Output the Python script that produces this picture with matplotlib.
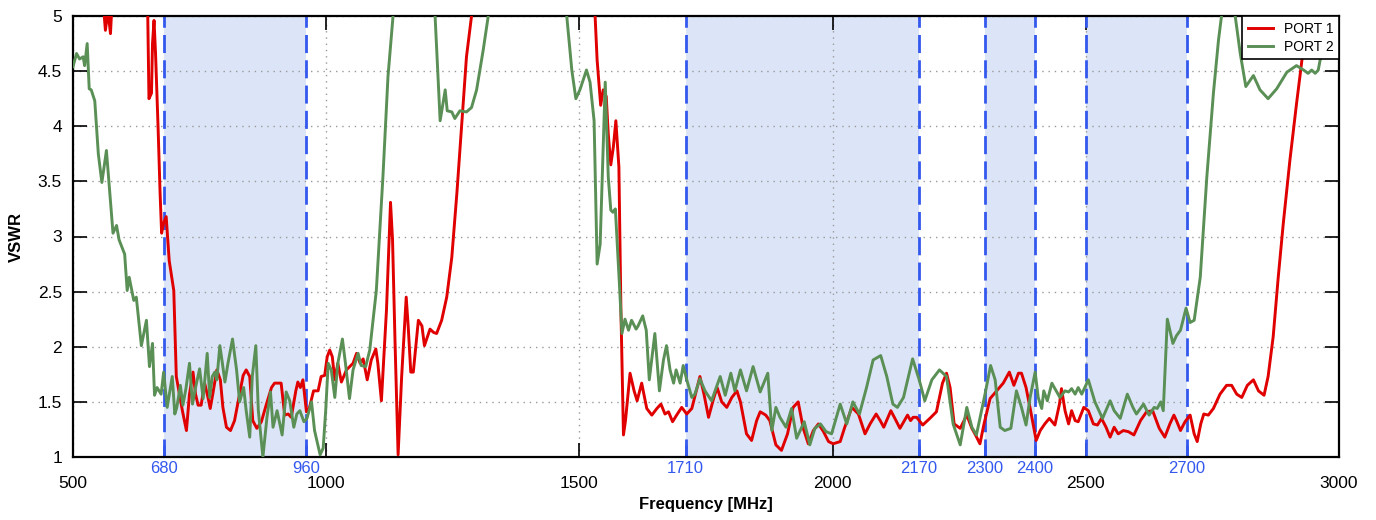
import numpy as np
import matplotlib
matplotlib.use('Agg')
import matplotlib.pyplot as plt
from matplotlib import rc

rc('font', family=['Liberation Sans', 'DejaVu Sans'])

# VSWR sweep, PORT 1 (values above 5 run off the top of the plot)
port1_freq = [500, 552, 560, 564, 569, 574, 578, 590, 640, 647, 650, 655, 657, 660, 663, 668, 672, 675, 679, 684,
              690, 699, 704, 709, 716, 724, 730, 737, 742, 747, 753, 760, 767, 771, 776, 784, 791, 796, 803, 811,
              819, 829, 836, 842, 849, 855, 863, 872, 882, 892, 898, 911, 918, 925, 931, 940, 944, 949, 954, 961,
              967, 975, 984, 990, 997, 1002, 1007, 1012, 1017, 1023, 1030, 1040, 1053, 1060, 1067, 1073, 1081, 1089, 1098, 1102,
              1109, 1119, 1127, 1131, 1136, 1142, 1149, 1158, 1162, 1167, 1172, 1182, 1189, 1194, 1205, 1212, 1218, 1228, 1238, 1248,
              1258, 1268, 1277, 1287, 1300, 1515, 1531, 1535, 1542, 1547, 1553, 1557, 1562, 1567, 1572, 1578, 1582, 1587, 1591, 1600,
              1608, 1614, 1623, 1633, 1643, 1653, 1661, 1669, 1676, 1684, 1692, 1702, 1712, 1722, 1738, 1746, 1755, 1765, 1772, 1781,
              1791, 1801, 1811, 1818, 1830, 1840, 1850, 1857, 1868, 1876, 1888, 1899, 1911, 1922, 1932, 1942, 1952, 1962, 1972, 1982,
              1992, 2001, 2015, 2024, 2038, 2051, 2064, 2074, 2086, 2094, 2101, 2115, 2123, 2133, 2148, 2154, 2159, 2166, 2178, 2192,
              2205, 2217, 2225, 2232, 2240, 2252, 2265, 2275, 2281, 2291, 2299, 2311, 2324, 2337, 2349, 2358, 2367, 2373, 2382, 2391,
              2402, 2410, 2419, 2428, 2439, 2448, 2452, 2459, 2466, 2472, 2479, 2485, 2496, 2505, 2515, 2523, 2531, 2540, 2548, 2556,
              2564, 2574, 2584, 2595, 2608, 2620, 2632, 2645, 2656, 2666, 2674, 2679, 2687, 2696, 2706, 2714, 2720, 2727, 2733, 2742,
              2752, 2765, 2778, 2788, 2798, 2808, 2819, 2831, 2841, 2852, 2860, 2870, 2880, 2890, 2903, 2916, 2926, 2933, 2938, 2960,
              3000]
port1_vswr = [6.5, 6.0, 5.1, 4.87, 5.05, 4.84, 5.2, 6.5, 6.5, 5.2, 4.25, 4.30, 4.75, 4.96, 4.66, 3.99, 3.39, 3.03, 3.12, 3.18,
              2.78, 2.51, 1.73, 1.60, 1.42, 1.24, 1.57, 1.77, 1.57, 1.47, 1.47, 1.67, 1.53, 1.44, 1.57, 1.79, 1.70, 1.45, 1.27, 1.24,
              1.33, 1.57, 1.74, 1.79, 1.73, 1.33, 1.26, 1.32, 1.48, 1.63, 1.67, 1.67, 1.38, 1.39, 1.36, 1.60, 1.68, 1.63, 1.70, 1.41,
              1.45, 1.60, 1.60, 1.73, 1.74, 1.91, 1.97, 1.91, 1.70, 1.85, 1.68, 1.79, 1.85, 1.94, 1.85, 1.89, 1.70, 1.88, 1.98, 1.85,
              1.51, 2.33, 3.31, 2.97, 2.03, 1.02, 1.73, 2.45, 2.18, 1.77, 1.77, 2.24, 2.19, 2.01, 2.16, 2.13, 2.12, 2.24, 2.45, 2.81,
              3.39, 4.05, 4.63, 5.0, 6.5, 6.5, 5.0, 4.60, 4.19, 4.33, 4.27, 3.93, 3.65, 3.81, 4.05, 3.63, 2.33, 1.20, 1.33, 1.76,
              1.60, 1.51, 1.67, 1.44, 1.38, 1.44, 1.48, 1.39, 1.41, 1.32, 1.38, 1.45, 1.39, 1.44, 1.73, 1.57, 1.36, 1.53, 1.63, 1.50,
              1.45, 1.54, 1.60, 1.50, 1.21, 1.15, 1.33, 1.41, 1.38, 1.33, 1.11, 1.06, 1.21, 1.45, 1.50, 1.26, 1.12, 1.24, 1.30, 1.23,
              1.14, 1.12, 1.14, 1.27, 1.45, 1.39, 1.21, 1.30, 1.39, 1.33, 1.27, 1.42, 1.35, 1.26, 1.38, 1.33, 1.36, 1.36, 1.29, 1.35,
              1.41, 1.67, 1.76, 1.63, 1.30, 1.26, 1.38, 1.26, 1.21, 1.12, 1.30, 1.53, 1.60, 1.67, 1.77, 1.65, 1.76, 1.76, 1.63, 1.42,
              1.15, 1.24, 1.30, 1.35, 1.29, 1.48, 1.62, 1.42, 1.30, 1.42, 1.33, 1.32, 1.45, 1.42, 1.30, 1.29, 1.35, 1.27, 1.18, 1.27,
              1.21, 1.24, 1.23, 1.20, 1.33, 1.41, 1.42, 1.26, 1.18, 1.30, 1.38, 1.33, 1.24, 1.32, 1.38, 1.21, 1.14, 1.30, 1.39, 1.38,
              1.44, 1.57, 1.65, 1.65, 1.57, 1.54, 1.65, 1.70, 1.60, 1.56, 1.73, 2.09, 2.63, 3.12, 3.69, 4.20, 4.57, 4.87, 5.0, 6.0,
              7.0]

# VSWR sweep, PORT 2
port2_freq = [500, 507, 513, 520, 523, 528, 532, 536, 543, 550, 557, 566, 579, 586, 591, 602, 607, 611, 620, 625,
              635, 645, 651, 657, 661, 666, 674, 679, 686, 696, 701, 705, 712, 717, 723, 730, 736, 742, 750, 757,
              765, 770, 775, 780, 784, 790, 795, 800, 806, 815, 823, 829, 837, 842, 849, 854, 861, 866, 875, 883,
              890, 895, 903, 913, 921, 928, 936, 942, 948, 956, 962, 971, 977, 988, 994, 999, 1004, 1010, 1017, 1023,
              1032, 1038, 1046, 1053, 1063, 1069, 1078, 1086, 1099, 1112, 1122, 1132, 1145, 1205, 1215, 1225, 1235, 1239, 1248, 1254,
              1264, 1277, 1287, 1297, 1310, 1320, 1335, 1460, 1475, 1485, 1493, 1501, 1514, 1521, 1529, 1535, 1541, 1551, 1557, 1562,
              1566, 1571, 1579, 1584, 1590, 1597, 1603, 1612, 1616, 1625, 1632, 1638, 1649, 1658, 1666, 1672, 1679, 1686, 1691, 1699,
              1705, 1712, 1722, 1728, 1738, 1748, 1761, 1768, 1778, 1788, 1799, 1807, 1818, 1830, 1843, 1857, 1872, 1880, 1888, 1896,
              1908, 1919, 1929, 1944, 1955, 1965, 1976, 1987, 1998, 2015, 2028, 2040, 2053, 2067, 2080, 2095, 2107, 2119, 2128, 2140,
              2158, 2171, 2182, 2196, 2211, 2225, 2238, 2252, 2265, 2275, 2284, 2301, 2312, 2321, 2331, 2340, 2352, 2363, 2373, 2382,
              2390, 2400, 2406, 2413, 2417, 2424, 2433, 2439, 2449, 2459, 2466, 2472, 2479, 2485, 2492, 2505, 2518, 2533, 2548, 2556,
              2568, 2582, 2593, 2600, 2614, 2625, 2635, 2641, 2648, 2653, 2661, 2672, 2679, 2687, 2698, 2706, 2714, 2726, 2739, 2752,
              2762, 2768, 2778, 2786, 2795, 2805, 2816, 2831, 2844, 2860, 2877, 2897, 2916, 2930, 2939, 2946, 2953, 2959, 2964, 2968,
              3000]
port2_vswr = [4.54, 4.66, 4.61, 4.63, 4.55, 4.75, 4.34, 4.33, 4.23, 3.75, 3.49, 3.78, 3.03, 3.10, 2.97, 2.84, 2.51, 2.63, 2.42, 2.45,
              2.01, 2.24, 1.82, 2.03, 1.56, 1.63, 1.57, 1.77, 1.45, 1.73, 1.39, 1.45, 1.65, 1.47, 1.62, 1.85, 1.48, 1.63, 1.80, 1.53,
              1.94, 1.54, 1.73, 1.77, 1.70, 2.01, 1.85, 1.68, 1.85, 2.07, 1.79, 1.50, 1.63, 1.42, 1.18, 1.73, 2.01, 1.42, 1.00, 1.36,
              1.59, 1.27, 1.42, 1.20, 1.59, 1.51, 1.27, 1.39, 1.42, 1.32, 1.35, 1.50, 1.24, 1.02, 1.08, 1.42, 1.85, 1.79, 1.54, 1.85,
              2.07, 1.85, 1.53, 1.79, 1.94, 1.83, 1.82, 1.97, 2.51, 3.54, 4.45, 5.0, 6.0, 6.0, 5.0, 4.05, 4.33, 4.14, 4.13, 4.07,
              4.14, 4.13, 4.17, 4.33, 4.69, 5.0, 6.0, 6.0, 5.0, 4.51, 4.25, 4.33, 4.51, 4.40, 4.05, 2.75, 2.93, 4.40, 3.54, 3.24,
              3.22, 3.25, 2.57, 2.12, 2.25, 2.15, 2.24, 2.16, 2.19, 2.28, 2.15, 1.70, 2.12, 1.60, 1.88, 2.01, 1.79, 1.67, 1.79, 1.67,
              1.83, 1.70, 1.54, 1.57, 1.71, 1.60, 1.51, 1.60, 1.73, 1.56, 1.76, 1.60, 1.79, 1.60, 1.82, 1.59, 1.76, 1.24, 1.45, 1.36,
              1.27, 1.44, 1.17, 1.32, 1.11, 1.26, 1.30, 1.23, 1.21, 1.48, 1.30, 1.50, 1.39, 1.63, 1.88, 1.92, 1.73, 1.48, 1.45, 1.54,
              1.89, 1.70, 1.51, 1.70, 1.79, 1.73, 1.30, 1.11, 1.45, 1.27, 1.20, 1.57, 1.83, 1.70, 1.27, 1.24, 1.26, 1.60, 1.45, 1.29,
              1.54, 1.77, 1.54, 1.44, 1.60, 1.51, 1.67, 1.62, 1.54, 1.60, 1.59, 1.62, 1.57, 1.63, 1.57, 1.70, 1.50, 1.35, 1.51, 1.42,
              1.35, 1.57, 1.45, 1.39, 1.48, 1.38, 1.45, 1.44, 1.50, 1.42, 2.25, 2.03, 2.10, 2.15, 2.35, 2.22, 2.24, 2.63, 3.54, 4.30,
              4.78, 5.0, 5.4, 5.4, 5.0, 4.66, 4.36, 4.46, 4.33, 4.25, 4.34, 4.49, 4.55, 4.51, 4.48, 4.51, 4.48, 4.51, 4.63, 5.3,
              6.0]

# frequency bands
band_lo = [680, 1710, 2300, 2500]
band_hi = [960, 2170, 2400, 2700]
band_edges = [680, 960, 1710, 2170, 2300, 2400, 2500, 2700]

blue = '#3358ee'

fig = plt.figure(figsize=(13.76, 5.2), dpi=100)
ax = fig.add_axes([73/1376, 1 - 457/520, 1266/1376, 441/520])

for lo, hi in zip(band_lo, band_hi):
    ax.axvspan(lo, hi, color='#dce5f7', lw=0, zorder=0.5)
for e in band_edges:
    ax.axvline(e, color=blue, lw=2, dashes=(6.5, 2.6), zorder=2.2)

ax.plot(port1_freq, port1_vswr, color='#e00000', lw=2.1, label='PORT 1', zorder=3)
ax.plot(port2_freq, port2_vswr, color='#5a8f55', lw=2.1, label='PORT 2', zorder=3)

ax.set_xlim(500, 3000)
ax.set_ylim(1, 5)
ax.set_xticks([500, 1000, 1500, 2000, 2500, 3000])
ax.set_xticks(band_edges, minor=True)
ax.set_xticklabels([str(e) for e in band_edges], minor=True)
ax.set_yticks([1, 1.5, 2, 2.5, 3, 3.5, 4, 4.5, 5])
ax.set_yticklabels(['1', '1.5', '2', '2.5', '3', '3.5', '4', '4.5', '5'])

ax.tick_params(axis='both', which='major', direction='in', top=True, right=True,
               length=10, width=1.2, labelsize=12.5)
ax.tick_params(axis='y', which='major', length=10, pad=8)
ax.tick_params(axis='x', which='major', pad=14)
ax.tick_params(axis='x', which='minor', direction='in', length=9, width=2, color=blue,
               labelcolor=blue, labelsize=12, pad=3, top=False)
ax.grid(True, which='major', color='#999999', ls=(0, (1, 3.5)), lw=1)

for s in ax.spines.values():
    s.set_linewidth(1.6)

ax.set_xlabel('Frequency [MHz]', fontsize=12, fontweight='bold', labelpad=4)
ax.set_ylabel('VSWR', fontsize=12, fontweight='bold', labelpad=10)

leg = ax.legend(loc='upper right', fontsize=10, fancybox=False, framealpha=1, borderaxespad=0,
                handlelength=1.8, handletextpad=0.8, labelspacing=0.3, borderpad=0.4)
leg.get_frame().set_edgecolor('black')
leg.get_frame().set_linewidth(1.2)

plt.savefig('out.png', dpi=100)
